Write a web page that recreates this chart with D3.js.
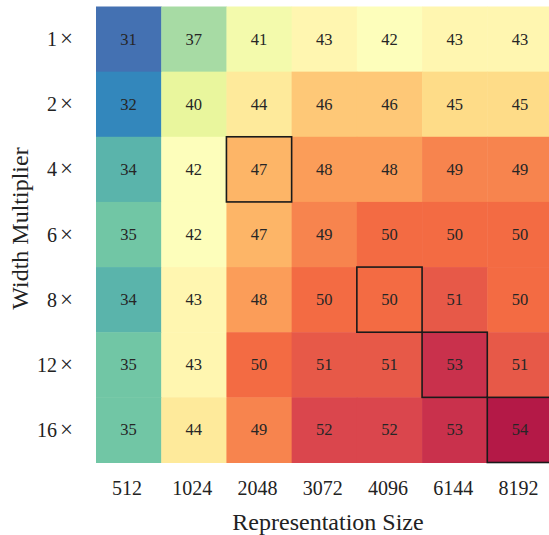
<!DOCTYPE html>
<html>
<head>
<meta charset="utf-8">
<script src="https://cdn.jsdelivr.net/npm/d3@7"></script>
<style>
  html, body { margin: 0; padding: 0; background: #fff; }
  svg { display: block; }
  svg text { font-family: "Liberation Serif", "DejaVu Serif", serif !important; }
</style>
</head>
<body>
<svg id="chart" width="549" height="535" font-family="Liberation Serif, serif"></svg>
<script>
// ---- data ----
const rowLabels = ["1×", "2×", "4×", "6×", "8×", "12×", "16×"];
const colLabels = ["512", "1024", "2048", "3072", "4096", "6144", "8192"];
const row1x  = [31, 37, 41, 43, 42, 43, 43];
const row2x  = [32, 40, 44, 46, 46, 45, 45];
const row4x  = [34, 42, 47, 48, 48, 49, 49];
const row6x  = [35, 42, 47, 49, 50, 50, 50];
const row8x  = [34, 43, 48, 50, 50, 51, 50];
const row12x = [35, 43, 50, 51, 51, 53, 51];
const row16x = [35, 44, 49, 52, 52, 53, 54];
const highlighted = [["4×", "2048"], ["8×", "4096"], ["12×", "6144"], ["16×", "8192"]];
const colorDomain = [29.5, 55];
const spectralR = ["#5e4fa2", "#3288bd", "#66c2a5", "#abdda4", "#e6f598", "#ffffbf",
                   "#fee08b", "#fdae61", "#f46d43", "#d53e4f", "#9e0142"];

const rows = [row1x, row2x, row4x, row6x, row8x, row12x, row16x];
const cells = [];
rows.forEach((r, i) => r.forEach((v, j) => cells.push({row: rowLabels[i], col: colLabels[j], value: v})));

// ---- layout ----
const mLeft = 96, mTop = 6.5, plotW = 456.5, plotH = 456;
const svg = d3.select("#chart");

const x = d3.scaleBand().domain(colLabels).range([mLeft, mLeft + plotW]);
const y = d3.scaleBand().domain(rowLabels).range([mTop, mTop + plotH]);
const stops = d3.range(spectralR.length).map(i => colorDomain[0] + (colorDomain[1] - colorDomain[0]) * i / (spectralR.length - 1));
const color = d3.scaleLinear().domain(stops).range(spectralR).interpolate(d3.interpolateRgb).clamp(true);

const g = svg.append("g");
g.selectAll("rect.cell").data(cells).enter().append("rect")
  .attr("class", "cell")
  .attr("x", d => x(d.col))
  .attr("y", d => y(d.row))
  .attr("width", x.bandwidth() + 0.5)
  .attr("height", y.bandwidth() + 0.5)
  .attr("fill", d => color(d.value));

g.selectAll("text.val").data(cells).enter().append("text")
  .attr("class", "val")
  .attr("x", d => x(d.col) + x.bandwidth() / 2)
  .attr("y", d => y(d.row) + y.bandwidth() / 2 + 5.5)
  .attr("text-anchor", "middle")
  .attr("font-size", 16.5)
  .attr("fill", "#262626")
  .text(d => d3.format("d")(d.value));

g.selectAll("rect.hl").data(highlighted).enter().append("rect")
  .attr("class", "hl")
  .attr("x", d => x(d[1]))
  .attr("y", d => y(d[0]))
  .attr("width", x.bandwidth())
  .attr("height", y.bandwidth())
  .attr("fill", "none")
  .attr("stroke", "#1a1a1a")
  .attr("stroke-width", 1.6);

// axes
const xAxis = svg.append("g").attr("transform", `translate(0,${mTop + plotH})`)
  .call(d3.axisBottom(x).tickSize(0).tickPadding(0));
xAxis.attr("font-family", null).attr("font-size", null);
xAxis.select(".domain").remove();
xAxis.selectAll("text").attr("font-size", 20).attr("fill", "#222")
  .attr("dy", null).attr("y", 32).attr("dx", -1.5);

const yAxis = svg.append("g").attr("transform", `translate(73,0)`)
  .call(d3.axisLeft(y).tickSize(0).tickPadding(0));
yAxis.attr("font-family", null).attr("font-size", null);
yAxis.select(".domain").remove();
yAxis.selectAll("text").attr("font-size", 20).attr("fill", "#222")
  .attr("x", 0).attr("dy", "0.35em")
  .each(function(d) {
    const t = d3.select(this).text("");
    t.append("tspan").text(d.replace("×", ""));
    t.append("tspan").attr("dx", 3).attr("font-size", 23).text("×");
  });

svg.append("text")
  .attr("x", 328).attr("y", 529.5)
  .attr("text-anchor", "middle")
  .attr("font-size", 24)
  .attr("fill", "#222")
  .text("Representation Size");

svg.append("text")
  .attr("transform", "translate(28,228.5) rotate(-90)")
  .attr("text-anchor", "middle")
  .attr("font-size", 24)
  .attr("fill", "#222")
  .text("Width Multiplier");
</script>
</body>
</html>
